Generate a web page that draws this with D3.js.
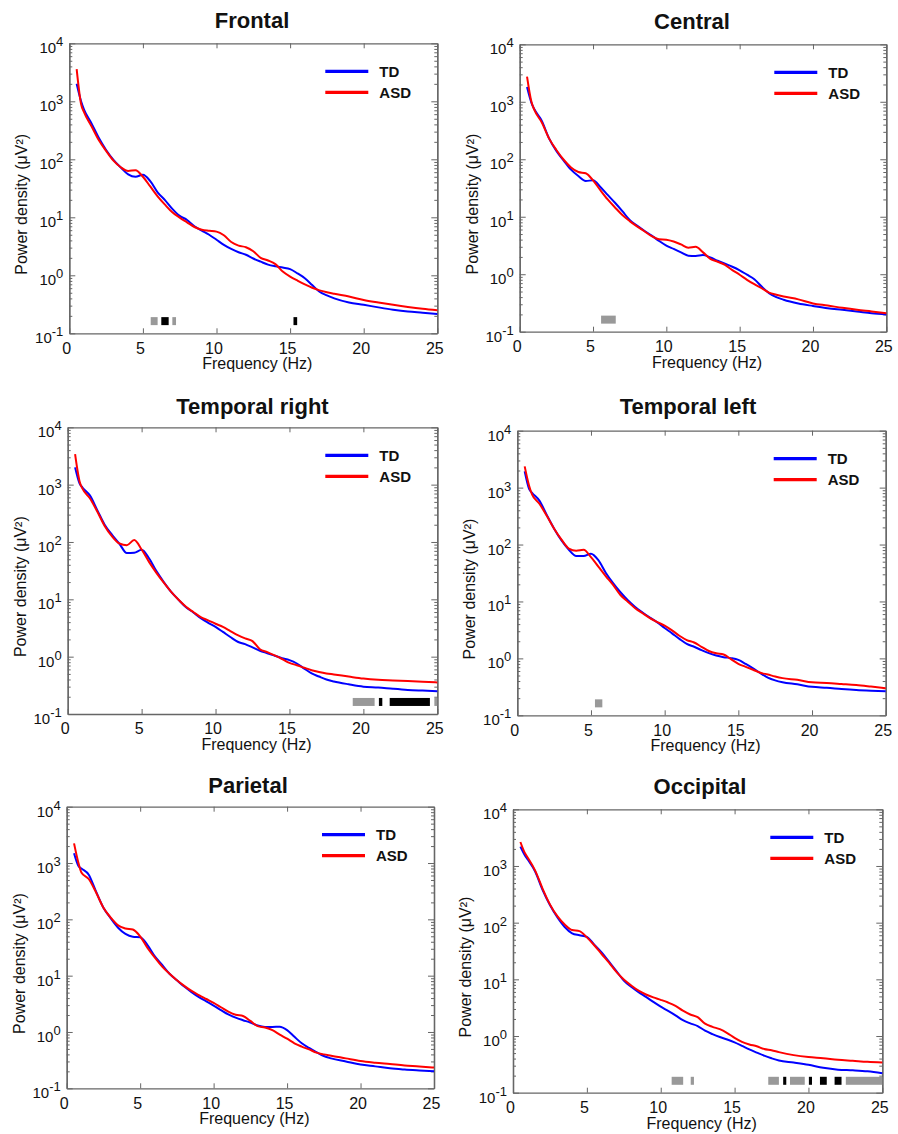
<!DOCTYPE html>
<html>
<head>
<meta charset="utf-8">
<script src="https://cdn.jsdelivr.net/npm/d3@7"></script>
<style>
  body { margin: 0; background: #fff; }
  svg { display: block; font-family: "Liberation Sans", Arial, sans-serif; }
</style>
</head>
<body>
<div id="chart"></div>
<script>
// frequency grid (Hz) shared by every curve
const freqs = [0.5, 0.8, 1, 1.5, 2, 2.5, 3, 3.5, 4, 4.5, 5, 5.5, 6, 6.5, 7, 7.5, 8, 8.5, 9, 9.5,
  10, 10.5, 11, 11.5, 12, 12.5, 13, 13.5, 14, 14.5, 15, 15.5, 16, 16.5, 17, 17.5, 18, 19, 20, 21, 22, 23, 24, 25];

const regions = ["Frontal", "Central", "Temporal right", "Temporal left", "Parietal", "Occipital"];
const groups = ["TD", "ASD"];

// power density (µV²)
const tdFrontal = [2000, 1000, 720, 420, 235, 145, 98, 72, 55, 50, 54, 42, 27, 19.8, 14, 10.6, 9, 7, 5.9, 5,
  4.1, 3.35, 2.85, 2.5, 2.26, 1.95, 1.72, 1.53, 1.43, 1.36, 1.28, 1.08, 0.89, 0.68, 0.52, 0.45, 0.4, 0.34, 0.31, 0.28, 0.255, 0.237, 0.226, 0.215];
const asdFrontal = [3600, 900, 650, 375, 215, 140, 95, 73, 63, 65, 50, 34, 23, 16.5, 12.2, 9.9, 8.2, 6.8, 6.1, 5.85,
  5.66, 4.9, 3.75, 3.25, 3.05, 2.6, 2.0, 1.8, 1.56, 1.16, 0.95, 0.81, 0.7, 0.61, 0.55, 0.51, 0.48, 0.43, 0.376, 0.34, 0.31, 0.285, 0.265, 0.25];

const tdCentral = [1800, 960, 740, 470, 231, 140, 95, 66, 51, 42, 43, 33, 24, 17.5, 12.5, 8.8, 7, 5.7, 4.7, 3.8,
  3.15, 2.75, 2.4, 2.1, 2.08, 2.15, 1.95, 1.72, 1.52, 1.35, 1.17, 0.98, 0.82, 0.61, 0.47, 0.4, 0.36, 0.31, 0.28, 0.255, 0.24, 0.225, 0.21, 0.2];
const asdCentral = [2750, 1000, 720, 440, 231, 145, 98, 72, 60, 57, 43, 29, 20, 14.5, 10.7, 8.4, 6.8, 5.6, 4.6, 4.05,
  3.98, 3.7, 3.3, 2.9, 3.0, 2.4, 1.85, 1.65, 1.45, 1.18, 0.98, 0.8, 0.67, 0.57, 0.48, 0.44, 0.41, 0.365, 0.31, 0.285, 0.26, 0.24, 0.225, 0.21];

const tdTempRight = [2000, 1050, 890, 650, 360, 200, 133, 93, 64, 65, 73, 52, 31, 20, 13.5, 9.8, 7.3, 5.9, 4.7, 3.9,
  3.3, 2.7, 2.2, 1.82, 1.65, 1.45, 1.27, 1.15, 1.04, 0.94, 0.87, 0.76, 0.62, 0.51, 0.45, 0.4, 0.37, 0.33, 0.3, 0.29, 0.275, 0.263, 0.256, 0.25];
const asdTempRight = [3400, 1150, 850, 580, 340, 190, 125, 94, 88, 108, 74, 45, 29, 19.5, 13.5, 9.8, 7.4, 6.0, 4.9, 4.3,
  3.75, 3.3, 2.8, 2.38, 2.08, 1.87, 1.35, 1.2, 1.05, 0.91, 0.78, 0.71, 0.64, 0.58, 0.54, 0.51, 0.49, 0.45, 0.415, 0.395, 0.385, 0.375, 0.365, 0.355];

const tdTempLeft = [1930, 950, 810, 590, 330, 190, 118, 81, 63, 63, 69, 53, 32, 21, 14.5, 10.5, 8, 6.4, 5.2, 4.3,
  3.42, 2.75, 2.2, 1.8, 1.6, 1.4, 1.24, 1.12, 1.05, 1.01, 0.94, 0.8, 0.67, 0.55, 0.46, 0.41, 0.38, 0.35, 0.316, 0.305, 0.29, 0.278, 0.27, 0.264];
const asdTempLeft = [2365, 1080, 760, 520, 320, 190, 122, 85, 78, 81, 60, 41, 28, 19.5, 13, 9.9, 7.6, 6.2, 5.1, 4.35,
  3.75, 3.1, 2.5, 2.1, 1.9, 1.6, 1.35, 1.23, 1.17, 0.97, 0.8, 0.71, 0.63, 0.56, 0.52, 0.48, 0.45, 0.42, 0.38, 0.37, 0.355, 0.34, 0.32, 0.3];

const tdParietal = [1490, 885, 800, 620, 310, 161, 104, 71, 55, 49, 48, 35, 22, 15.5, 10.8, 8.3, 6.4, 5.1, 4.15, 3.5,
  2.95, 2.45, 2.05, 1.8, 1.62, 1.47, 1.3, 1.23, 1.23, 1.24, 1.08, 0.82, 0.63, 0.52, 0.44, 0.375, 0.34, 0.3, 0.265, 0.245, 0.226, 0.215, 0.207, 0.2];
const asdParietal = [2230, 1000, 680, 520, 300, 161, 107, 78, 69, 66, 50, 31, 21, 14.5, 10.8, 8.3, 6.6, 5.35, 4.5, 3.85,
  3.3, 2.75, 2.3, 2.02, 1.92, 1.57, 1.27, 1.2, 1.08, 0.9, 0.76, 0.63, 0.55, 0.49, 0.43, 0.4, 0.38, 0.34, 0.305, 0.285, 0.27, 0.255, 0.245, 0.233];

const tdOccipital = [2200, 1550, 1300, 800, 380, 205, 125, 84, 65, 60, 56, 41, 30, 20.5, 14, 9.5, 7.4, 5.95, 4.9, 4.0,
  3.3, 2.78, 2.32, 1.9, 1.67, 1.5, 1.24, 1.08, 0.96, 0.87, 0.77, 0.67, 0.58, 0.51, 0.45, 0.405, 0.37, 0.34, 0.31, 0.275, 0.255, 0.248, 0.238, 0.22];
const asdOccipital = [2650, 1700, 1400, 830, 400, 210, 130, 93, 74, 71, 55, 40, 28, 19.7, 13.5, 9.9, 7.8, 6.3, 5.4, 4.8,
  4.35, 3.9, 3.4, 2.8, 2.4, 2.15, 1.65, 1.45, 1.32, 1.13, 0.93, 0.79, 0.71, 0.66, 0.59, 0.56, 0.52, 0.46, 0.425, 0.405, 0.38, 0.365, 0.35, 0.34];

// significant frequency ranges [from Hz, to Hz, level]
const sigFrontal = [[5.53, 6.0, "p05"], [6.25, 6.75, "p01"], [7.0, 7.25, "p05"], [15.23, 15.48, "p01"]];
const sigCentral = [[5.55, 6.55, "p05"]];
const sigTempRight = [[19.28, 20.76, "p05"], [21.05, 21.28, "p01"], [21.78, 24.5, "p01"], [24.8, 25.0, "p05"]];
const sigTempLeft = [[5.27, 5.77, "p05"]];
const sigParietal = [];
const sigOccipital = [[10.74, 11.52, "p05"], [12.03, 12.25, "p05"], [17.28, 18.0, "p05"], [18.29, 18.5, "p01"],
  [18.75, 19.75, "p05"], [20.03, 20.24, "p01"], [20.78, 21.24, "p01"], [21.77, 22.24, "p01"], [22.53, 25.0, "p05"]];

const xTicks = [0, 5, 10, 15, 20, 25];
const yExponents = [-1, 0, 1, 2, 3, 4];

const panels = [
  {name: regions[0], TD: tdFrontal, ASD: asdFrontal, sig: sigFrontal},
  {name: regions[1], TD: tdCentral, ASD: asdCentral, sig: sigCentral},
  {name: regions[2], TD: tdTempRight, ASD: asdTempRight, sig: sigTempRight},
  {name: regions[3], TD: tdTempLeft, ASD: asdTempLeft, sig: sigTempLeft},
  {name: regions[4], TD: tdParietal, ASD: asdParietal, sig: sigParietal},
  {name: regions[5], TD: tdOccipital, ASD: asdOccipital, sig: sigOccipital}
];

// plot boxes on the page
const boxes = [
  {x0: 69.3, x1: 437.3, y0: 43.3, y1: 333.3, tx: 252, ty: 28},
  {x0: 519.7, x1: 886.3, y0: 44.3, y1: 331.7, tx: 692, ty: 29.3},
  {x0: 67.7, x1: 437.3, y0: 427.3, y1: 714, tx: 252.5, ty: 413.7},
  {x0: 517.3, x1: 885.7, y0: 430.7, y1: 715.3, tx: 688, ty: 413.7},
  {x0: 66.7, x1: 434, y0: 806.7, y1: 1088.3, tx: 248, ty: 793.3},
  {x0: 513, x1: 882.3, y0: 809.3, y1: 1092.7, tx: 700, ty: 794}
];

const colors = {TD: "#0000ff", ASD: "#ff0000"};
const sigColors = {p05: "#999999", p01: "#000000"};
const sigLevel = Math.pow(10, -0.79); // where the significance marks sit
const axisColor = "#666";

const svg = d3.select("#chart").append("svg")
    .attr("width", 898)
    .attr("height", 1134);

const minorTicks = [];
for (let e = -1; e < 4; e++) {
  for (let m = 2; m < 10; m++) minorTicks.push(m * Math.pow(10, e));
}

panels.forEach((p, i) => drawPanel(p, boxes[i]));

function styleAxis(g) {
  g.select(".domain").attr("stroke", axisColor).attr("stroke-width", 1.3);
  g.selectAll(".tick line").attr("stroke", axisColor).attr("stroke-width", 1);
}

function drawPanel(p, b) {
  const x = d3.scaleLinear().domain([0, 25]).range([b.x0, b.x1]);
  const y = d3.scaleLog().domain([0.1, 1e4]).range([b.y1, b.y0]);
  const g = svg.append("g");

  // bottom / top axes
  g.append("g")
      .attr("transform", `translate(0,${b.y1})`)
      .call(d3.axisBottom(x).tickValues(xTicks).tickSizeInner(-5).tickSizeOuter(0).tickPadding(9))
      .call(styleAxis)
      .call(a => a.selectAll("text")
          .attr("font-size", 16)
          .attr("font-family", "Liberation Sans, Arial, sans-serif")
          .attr("fill", "#111")
          .attr("dx", -3));
  g.append("g")
      .attr("transform", `translate(0,${b.y0})`)
      .call(d3.axisTop(x).tickValues(xTicks).tickSizeInner(-5).tickSizeOuter(0).tickFormat(""))
      .call(styleAxis);

  // left / right axes, minor then major ticks
  [[d3.axisLeft, b.x0], [d3.axisRight, b.x1]].forEach(([axisFn, pos]) => {
    g.append("g")
        .attr("transform", `translate(${pos},0)`)
        .call(axisFn(y).tickValues(minorTicks).tickSizeInner(-3).tickSizeOuter(0).tickFormat(""))
        .call(styleAxis);
    g.append("g")
        .attr("transform", `translate(${pos},0)`)
        .call(axisFn(y).tickValues(yExponents.map(e => Math.pow(10, e))).tickSizeInner(-6).tickSizeOuter(0).tickFormat(""))
        .call(styleAxis);
  });

  // y tick labels as 10^n
  const yl = g.append("g").selectAll("text")
      .data(yExponents)
      .enter()
      .append("text")
      .attr("x", b.x0 - 6)
      .attr("y", e => y(Math.pow(10, e)) + 10)
      .attr("text-anchor", "end")
      .attr("font-size", 15)
      .attr("fill", "#111");
  yl.append("tspan").text("10");
  yl.append("tspan").attr("dy", -7).attr("font-size", 13).text(e => e);

  // significance marks
  g.append("g").selectAll("rect")
      .data(p.sig)
      .enter()
      .append("rect")
      .attr("x", d => x(d[0]))
      .attr("width", d => x(d[1]) - x(d[0]))
      .attr("y", y(sigLevel) - 4)
      .attr("height", 8)
      .attr("fill", d => sigColors[d[2]]);

  // curves
  const line = d3.line()
      .x((d, i) => x(freqs[i]))
      .y(d => y(d))
      .curve(d3.curveMonotoneX);
  groups.forEach(k => {
    g.append("path")
        .datum(p[k])
        .attr("d", line)
        .attr("fill", "none")
        .attr("stroke", colors[k])
        .attr("stroke-width", 2)
        .attr("stroke-linejoin", "round");
  });

  // legend
  groups.forEach((k, i) => {
    const ly = b.y0 + 28 + i * 21;
    g.append("line")
        .attr("x1", b.x1 - 112).attr("x2", b.x1 - 69)
        .attr("y1", ly).attr("y2", ly)
        .attr("stroke", colors[k])
        .attr("stroke-width", 3.2);
    g.append("text")
        .attr("x", b.x1 - 58)
        .attr("y", ly + 5.5)
        .attr("font-size", 15)
        .attr("font-weight", "bold")
        .attr("fill", "#111")
        .text(k);
  });

  // titles and axis labels
  g.append("text")
      .attr("x", b.tx).attr("y", b.ty)
      .attr("text-anchor", "middle")
      .attr("font-size", 22)
      .attr("font-weight", "bold")
      .attr("fill", "#111")
      .text(p.name);
  g.append("text")
      .attr("x", (b.x0 + b.x1) / 2 + 4).attr("y", b.y1 + 36)
      .attr("text-anchor", "middle")
      .attr("font-size", 16)
      .attr("fill", "#111")
      .text("Frequency (Hz)");
  g.append("text")
      .attr("transform", `translate(${b.x0 - 42},${(b.y0 + b.y1) / 2 + 16}) rotate(-90)`)
      .attr("text-anchor", "middle")
      .attr("font-size", 16)
      .attr("fill", "#111")
      .text("Power density (\u03BCV\u00B2)");
}
</script>
</body>
</html>
